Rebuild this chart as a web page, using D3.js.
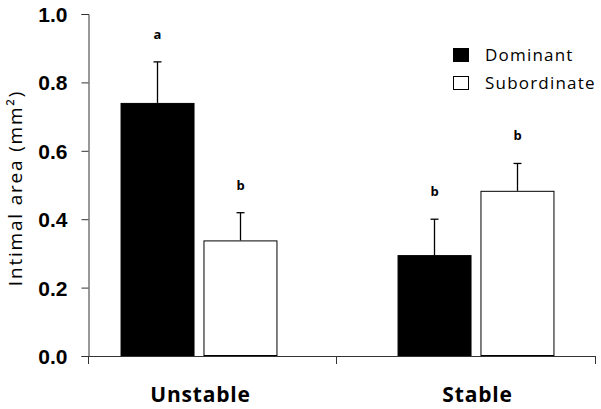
<!DOCTYPE html>
<html lang="en">
<head>
<meta charset="UTF-8">
<title>Intimal area</title>
<script src="https://cdn.jsdelivr.net/npm/d3@7"></script>
<style>
    body { margin: 0; background: #fff; }
    svg { display: block; font-family: "Open Sans", sans-serif; }
</style>
</head>
<body>
<div id="chart"></div>
<script>
    const categories = ["Unstable", "Stable"]
    const groups = ["Dominant", "Subordinate"]
    const dominantMeans = [0.74, 0.295]
    const dominantErrors = [0.12, 0.105]
    const subordinateMeans = [0.338, 0.483]
    const subordinateErrors = [0.081, 0.08]
    const sigLetters = [["a", "b"], ["b", "b"]]
    const yTicks = [0, 0.2, 0.4, 0.6, 0.8, 1.0]

    const width = 601
    const height = 409
    const plotLeft = 88
    const plotRight = 596
    const plotTop = 14
    const plotBottom = 356

    const bars = []
    categories.forEach((c, i) => {
        bars.push({cat: c, group: groups[0], mean: dominantMeans[i], err: dominantErrors[i], letter: sigLetters[i][0]})
        bars.push({cat: c, group: groups[1], mean: subordinateMeans[i], err: subordinateErrors[i], letter: sigLetters[i][1]})
    })

    const svg = d3.select("#chart").append("svg")
        .attr("width", width)
        .attr("height", height)

    const y = d3.scaleLinear().domain([0, 1]).range([plotBottom, plotTop])

    const x0 = d3.scaleBand().domain(categories).range([60, 614]).paddingInner(0)
    const x1 = d3.scaleBand().domain(groups).range([0, x0.bandwidth()])
        .paddingInner(0.12).paddingOuter(0.73)

    // bars
    svg.selectAll(".bar")
        .data(bars)
        .enter().append("rect")
        .attr("class", "bar")
        .attr("x", d => x0(d.cat) + x1(d.group) + 0.5)
        .attr("y", d => y(d.mean) + 0.5)
        .attr("width", x1.bandwidth())
        .attr("height", d => y(0) - y(d.mean) - 1)
        .attr("fill", d => d.group === "Dominant" ? "#000" : "#fff")
        .attr("stroke", "#000")
        .attr("stroke-width", 1)

    // error bars (upper only)
    const cx = d => Math.round(x0(d.cat) + x1(d.group) + x1.bandwidth() / 2) + 0.5
    svg.selectAll(".err")
        .data(bars)
        .enter().append("line")
        .attr("x1", cx).attr("x2", cx)
        .attr("y1", d => y(d.mean))
        .attr("y2", d => y(d.mean + d.err))
        .attr("stroke", "#000")
        .attr("stroke-width", 1.3)

    svg.selectAll(".cap")
        .data(bars)
        .enter().append("line")
        .attr("x1", d => cx(d) - 4).attr("x2", d => cx(d) + 4)
        .attr("y1", d => y(d.mean + d.err))
        .attr("y2", d => y(d.mean + d.err))
        .attr("stroke", "#000")
        .attr("stroke-width", 1.3)

    svg.selectAll(".letter")
        .data(bars)
        .enter().append("text")
        .attr("x", cx)
        .attr("y", d => y(d.mean + d.err) - 23)
        .attr("text-anchor", "middle")
        .style("font-size", "13px")
        .style("font-weight", "bold")
        .text(d => d.letter)

    // y axis
    const yAxis = svg.append("g")
        .attr("transform", `translate(${plotLeft + 0.5},0)`)
        .call(d3.axisLeft(y).tickValues(yTicks).tickFormat(d3.format(".1f")).tickSizeOuter(0).tickSize(7).tickPadding(14))
    yAxis.select(".domain").attr("stroke", "#333")
    yAxis.selectAll(".tick line").attr("stroke", "#333")
    yAxis.selectAll("text")
        .style("font-size", "21px")
        .style("font-weight", "bold")
        .attr("fill", "#000")
        .attr("dy", "0.36em")

    // x axis
    const xg = svg.append("g")
    xg.append("line")
        .attr("x1", plotLeft).attr("x2", plotRight)
        .attr("y1", plotBottom + 0.5).attr("y2", plotBottom + 0.5)
        .attr("stroke", "#333")
    const sepTicks = [x0(categories[1]), plotRight]
    xg.selectAll(".xtick")
        .data(sepTicks)
        .enter().append("line")
        .attr("x1", d => Math.round(d) - 0.5).attr("x2", d => Math.round(d) - 0.5)
        .attr("y1", plotBottom).attr("y2", plotBottom + 8)
        .attr("stroke", "#333")
    xg.append("line")
        .attr("x1", plotLeft + 0.5).attr("x2", plotLeft + 0.5)
        .attr("y1", plotBottom).attr("y2", plotBottom + 8)
        .attr("stroke", "#333")
    xg.selectAll(".xlabel")
        .data(categories)
        .enter().append("text")
        .attr("x", d => x0(d) + x0.bandwidth() / 2 + 2)
        .attr("y", 402)
        .attr("text-anchor", "middle")
        .style("font-size", "21px")
        .style("font-weight", "bold")
        .style("letter-spacing", "0.8px")
        .text(d => d)

    // y label
    svg.append("text")
        .attr("transform", `translate(22,188) rotate(-90)`)
        .attr("text-anchor", "middle")
        .style("font-size", "19px")
        .style("letter-spacing", "1.8px")
        .text("Intimal area (mm\u00B2)")

    // legend
    const legend = svg.selectAll(".legend")
        .data(groups)
        .enter().append("g")
        .attr("transform", (d, i) => `translate(453,${48 + i * 28})`)
    legend.append("rect")
        .attr("x", 0.5).attr("y", 0.5)
        .attr("width", 15).attr("height", 13)
        .attr("fill", d => d === "Dominant" ? "#000" : "#fff")
        .attr("stroke", "#000")
    legend.append("text")
        .attr("x", 32)
        .attr("y", 13)
        .style("font-size", "17px")
        .style("letter-spacing", "1.2px")
        .text(d => d)
</script>
</body>
</html>
